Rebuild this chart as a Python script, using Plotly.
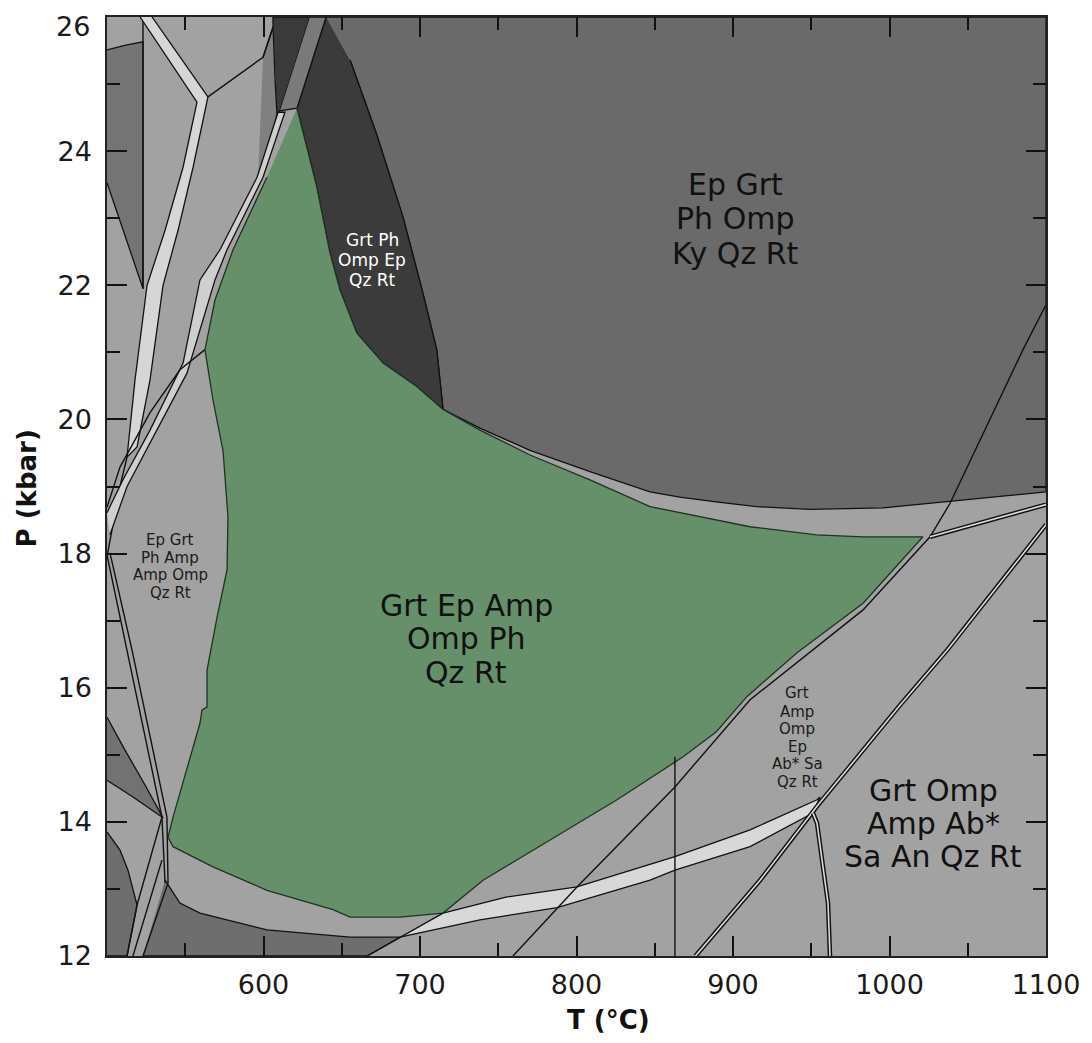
import plotly.graph_objects as go

# ---------------- data (T in °C, P in kbar) ----------------
# big dark field  Ep Grt Ph Omp Ky Qz Rt
ky_T = [640.0, 1100, 1100, 1070.0, 1038.7, 995.9, 949.2, 915.0, 889.2, 866.0, 847.0, 808.6, 770.3, 738.3, 714.7, 710.7, 701.9, 689.1, 672.0, 655.3]
ky_P = [26.0, 26.0, 18.92, 18.85, 18.77, 18.68, 18.66, 18.70, 18.77, 18.84, 18.92, 19.22, 19.54, 19.87, 20.15, 21.04, 21.88, 23.02, 24.27, 25.36]
# darkest field  Grt Ph Omp Ep Qz Rt
grtph_T = [640.0, 621.4, 634.0, 642.5, 648.9, 659.6, 676.4, 697.9, 714.7, 710.7, 701.9, 689.1, 672.0, 655.3]
grtph_P = [26.0, 24.64, 23.47, 22.48, 21.93, 21.29, 20.84, 20.49, 20.15, 21.04, 21.88, 23.02, 24.27, 25.36]
# dark column at top
col_T = [606.1, 629.7, 610.5, 608.6]
col_P = [26.0, 26.0, 24.60, 24.56]
# medium wedge next to it
wedge_T = [629.7, 640.0, 621.4, 610.5]
wedge_P = [26.0, 26.0, 24.64, 24.60]
# narrow medium sliver
sliver_T = [599.7, 606.1, 607.5, 608.6, 603.5, 596.5]
sliver_P = [25.40, 25.85, 25.0, 24.56, 23.9, 23.6]
# top-left medium wedge
tlw_T = [500.0, 512.0, 523.0, 523.0, 500.0]
tlw_P = [25.51, 25.58, 25.63, 21.95, 23.53]
# upper light band
wb1_T = [528.8, 564.5, 555.0, 545.4, 535.8, 527.5, 519.2, 512.8, 517.9, 525.6, 537.1, 548.6, 557.5, 521.1]
wb1_P = [26.0, 24.81, 23.76, 22.82, 22.00, 20.59, 19.59, 19.44, 20.59, 22.00, 22.82, 23.76, 24.73, 26.0]
tail_T = [512.8, 508.3, 500.0]
tail_P = [19.44, 19.0, 17.95]
junc_T = [564.5, 599.7, 606.1, 606.1]
junc_P = [24.81, 25.40, 25.85, 26.0]
# diagonal light band
d1_T = [500.0, 510.2, 527.5, 548.6, 559.4, 572.2, 595.9, 609.3]
d1_P = [18.61, 19.10, 19.84, 20.84, 22.08, 22.53, 23.61, 24.58]
d2_T = [501.9, 512.8, 532.0, 551.1, 569.0, 576.7, 599.7, 613.7]
d2_P = [18.28, 19.0, 19.84, 20.69, 22.08, 22.53, 23.61, 24.58]
d3_T = [562.6, 546.6, 527.5, 508.3, 500.0]
d3_P = [21.04, 20.74, 20.10, 19.29, 18.69]
# near-vertical pair on the left
v1_T = [500.0, 512.8, 527.5, 535.1, 537.1]
v1_P = [17.98, 16.56, 14.92, 14.07, 13.09]
v2_T = [501.9, 516.0, 530.7, 538.3, 539.0]
v2_P = [18.01, 16.56, 14.92, 14.07, 13.09]
b1_T = [535.1, 519.2, 512.8]
b1_P = [14.07, 12.76, 12.0]
b2_T = [535.1, 516.6]
b2_P = [13.43, 12.0]
b3_T = [539.0, 523.0]
b3_P = [13.09, 12.0]
# lower-left dark fields
lld_T = [500.0, 508.3, 513.4, 519.2, 512.8, 500.0]
lld_P = [13.85, 13.58, 13.28, 12.76, 12.0, 12.0]
ulw_T = [500.0, 511.5, 524.3, 535.8, 516.6, 500.0]
ulw_P = [15.56, 15.07, 14.55, 14.06, 14.37, 14.62]
bd_T = [537.1, 546.6, 559.4, 602.2, 655.3, 687.2, 666.2, 523.0]
bd_P = [13.13, 12.79, 12.64, 12.39, 12.28, 12.28, 12.0, 12.0]
lb_T = [666.2, 687.2, 714.7]
lb_P = [12.0, 12.28, 12.64]
# lower light band
wb2_T = [714.7, 755.6, 800.3, 847.0, 862.9, 910.9, 953.7, 955.6, 951.1, 910.9, 862.9, 847.0, 787.6, 738.3, 687.2]
wb2_P = [12.64, 12.88, 13.03, 13.36, 13.48, 13.88, 14.33, 14.37, 14.13, 13.63, 13.28, 13.13, 12.72, 12.54, 12.28]
# long reaction lines
ll_T = [759.4, 787.6, 800.3, 862.9, 910.9, 983.1, 1025.9, 1038.7, 1085.3, 1100]
ll_P = [12.0, 12.72, 13.03, 14.52, 15.82, 17.16, 18.25, 18.75, 21.04, 21.71]
vl_T = [862.9, 862.9]
vl_P = [12.0, 14.97]
ld_T = [876.0, 917.3, 954.3, 1006.7, 1036.8, 1100]
ld_P = [12.0, 13.13, 14.25, 15.74, 16.56, 18.43]
cd_T = [951.1, 953.7, 957.5, 960.7, 962.0]
cd_P = [14.13, 13.98, 13.33, 12.79, 12.0]
rb_T = [1025.9, 1100]
rb_P = [18.25, 18.73]
# green field  Grt Ep Amp Omp Ph Qz Rt
green_T = [621.4, 634.0, 642.5, 648.9, 659.6, 676.4, 697.9, 714.7, 738.3, 770.3, 808.6, 847.0, 910.9,
           953.3, 983.1, 1021.4, 983.1, 940.9, 909.0, 889.2, 868.1, 847.0, 825.9, 783.1, 740.3, 714.7,
           687.2, 655.3, 644.4, 602.2, 567.7, 542.2, 539.0, 542.2, 559.4, 560.7, 563.9, 563.9, 570.3,
           576.7, 577.3, 574.1, 567.7, 562.6, 569.0, 580.5, 602.2]
green_P = [24.64, 23.47, 22.48, 21.93, 21.29, 20.84, 20.49, 20.15, 19.84, 19.47, 19.10, 18.70, 18.40,
           18.28, 18.25, 18.25, 17.26, 16.52, 15.87, 15.34, 14.97, 14.65, 14.33, 13.73, 13.13, 12.64,
           12.58, 12.58, 12.69, 12.98, 13.33, 13.63, 13.77, 14.07, 15.47, 15.67, 15.71, 16.26, 17.05,
           17.76, 18.55, 19.54, 20.29, 21.04, 21.78, 22.53, 23.61]

x_ticks = [600, 700, 800, 900, 1000, 1100]
x_minor = [550, 650, 750, 850, 950, 1050]
y_ticks = [12, 14, 16, 18, 20, 22, 24, 26]
y_labels = ["12", "14", "16", "18", "20", "22", "24", "26"]
y_minor = [13, 15, 17, 19, 21, 23, 25]

labels = [
    (["Ep Grt", "Ph Omp", "Ky Qz Rt"], 901.3, [23.51, 23.00, 22.48], 30, "#111111"),
    (["Grt Ph", "Omp Ep", "Qz Rt"], 669.4, [22.68, 22.38, 22.08], 17, "#ffffff"),
    (["Grt Ep Amp", "Omp Ph", "Qz Rt"], 729.4, [17.23, 16.73, 16.23], 30, "#111111"),
    (["Ep Grt", "Ph Amp", "Amp Omp", "Qz Rt"], 540.3, [18.20, 17.93, 17.68, 17.41], 15, "#1a1a1a"),
    (["Grt", "Amp", "Omp", "Ep", "Ab* Sa", "Qz Rt"], 940.9, [15.92, 15.64, 15.38, 15.12, 14.86, 14.59], 15, "#1a1a1a"),
    (["Grt Omp", "Amp Ab*", "Sa An Qz Rt"], 1028.0, [14.47, 13.97, 13.48], 30, "#111111"),
]

# ---------------- figure ----------------
fig = go.Figure()
LINE = "#111111"
TICKFONT = dict(family="DejaVu Sans", size=27, color="#1a1a1a")


def field(xs, ys, color, lw=1.3, lc=LINE):
    fig.add_trace(go.Scatter(x=xs, y=ys, mode="lines", fill="toself", fillcolor=color,
                             line=dict(color=lc, width=lw), hoverinfo="skip", showlegend=False))


def curve(xs, ys, w=1.4, color=LINE):
    fig.add_trace(go.Scatter(x=xs, y=ys, mode="lines", line=dict(color=color, width=w),
                             hoverinfo="skip", showlegend=False))


def double(xs, ys):
    curve(xs, ys, w=4.5)
    curve(xs, ys, w=1.6, color="#dcdcdc")


field(ky_T, ky_P, "#6a6a6a")
field(grtph_T, grtph_P, "#3b3b3b")
field(col_T, col_P, "#3a3a3a")
field(wedge_T, wedge_P, "#7a7a7a")
field(sliver_T, sliver_P, "#808080")
field(tlw_T, tlw_P, "#747474")
curve([523.0, 523.0], [26.0, 21.95])
field(wb1_T, wb1_P, "#d6d6d6")
curve(tail_T, tail_P)
curve(junc_T, junc_P)
field(d1_T + d2_T[::-1], d1_P + d2_P[::-1], "#cfcfcf")
curve(d3_T, d3_P)
field(ulw_T, ulw_P, "#727272")
field(lld_T, lld_P, "#6e6e6e")
field(bd_T, bd_P, "#6e6e6e")
curve(v1_T, v1_P)
curve(v2_T, v2_P)
curve(b1_T, b1_P)
curve(b2_T, b2_P)
curve(b3_T, b3_P)
field(green_T, green_P, "#66906a", lw=1.3, lc="#1f3320")
field(wb2_T, wb2_P, "#d8d8d8")
curve(lb_T, lb_P)
curve(ll_T, ll_P)
curve(vl_T, vl_P)
double(ld_T, ld_P)
double(cd_T, cd_P)
double(rb_T, rb_P)

for lines, x, ys, size, color in labels:
    for txt, y in zip(lines, ys):
        fig.add_annotation(x=x, y=y, text=txt, showarrow=False, xanchor="center", yanchor="middle",
                           font=dict(family="DejaVu Sans", size=size, color=color))

fig.add_annotation(xref="paper", yref="paper", x=0.5336, y=-0.0682, text="<b>T (°C)</b>",
                   showarrow=False, xanchor="center", yanchor="middle",
                   font=dict(family="DejaVu Sans", size=26, color="#111111"))
fig.add_annotation(xref="paper", yref="paper", x=-0.0852, y=0.498, text="<b>P (kbar)</b>",
                   showarrow=False, xanchor="center", yanchor="middle", textangle=-90,
                   font=dict(family="DejaVu Sans", size=26, color="#111111"))
# the topmost P label is placed as an annotation so that it stays fully inside the page
fig.add_annotation(xref="paper", yref="paper", x=-0.0165, y=1.0, yshift=8, text=y_labels[-1],
                   showarrow=False, xanchor="right", yanchor="top", font=TICKFONT)

axis_common = dict(showgrid=False, zeroline=False, showline=True, linecolor="#222222", linewidth=1.5,
                   mirror="ticks", ticks="inside", ticklen=20, tickwidth=1.5, tickcolor="#111111",
                   tickfont=TICKFONT, automargin=False, ticklabeloverflow="allow")
fig.update_xaxes(range=[500, 1100], tickmode="array", tickvals=x_ticks, ticklabelstandoff=4,
                 minor=dict(tickmode="array", tickvals=x_minor, ticks="inside", ticklen=13,
                            tickwidth=1.5, tickcolor="#111111", showgrid=False),
                 **axis_common)
fig.update_yaxes(range=[12, 26], tickmode="array", tickvals=y_ticks,
                 ticktext=y_labels[:-1] + [""], ticklabelstandoff=8,
                 minor=dict(tickmode="array", tickvals=y_minor, ticks="inside", ticklen=13,
                            tickwidth=1.5, tickcolor="#111111", showgrid=False),
                 **axis_common)

# page body has an 8 px margin, so the figure is sized to fit the window exactly
fig.update_layout(width=1076, height=1027, margin=dict(l=99, r=38, t=9, b=79),
                  plot_bgcolor="#a2a2a2", paper_bgcolor="#ffffff", showlegend=False)

fig.write_html("out.html")
